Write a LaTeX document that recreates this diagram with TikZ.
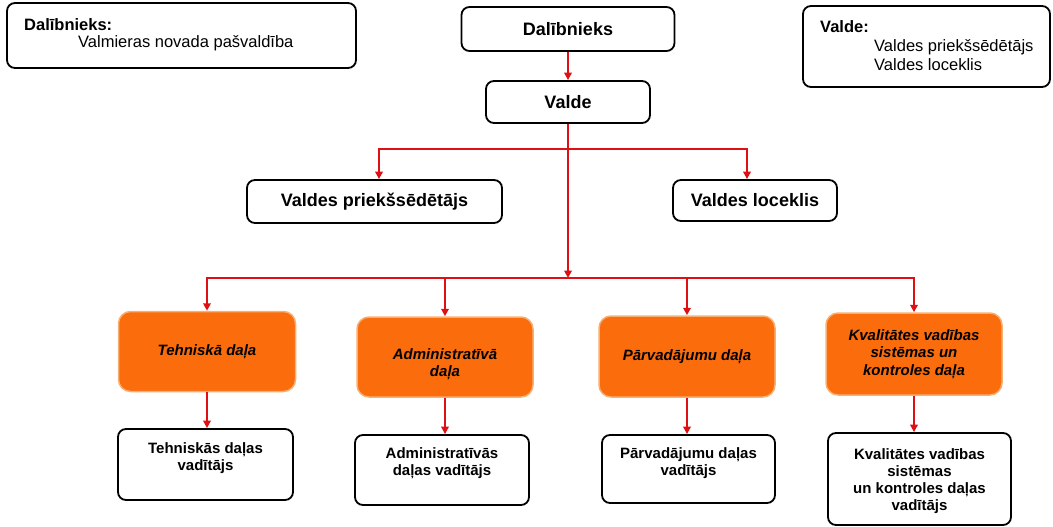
\documentclass[tikz,border=0pt]{standalone}
\usepackage{fontspec}
\setmainfont{Liberation Sans}
\usetikzlibrary{arrows.meta}
\definecolor{linkred}{RGB}{222,16,20}
\definecolor{orfill}{RGB}{250,108,12}
\definecolor{ordraw}{RGB}{246,176,116}
\begin{document}
\begin{tikzpicture}[x=1pt,y=-1pt,
  blackbox/.style={draw=black, line width=1.8pt, rounded corners=8pt, fill=white, inner sep=0pt, align=center},
  midbox/.style={blackbox, font=\bfseries\fontsize{18}{20}\selectfont},
  orangebox/.style={draw=ordraw, line width=1.5pt, fill=orfill, rounded corners=12pt, inner sep=0pt, align=center, font=\bfseries\itshape\fontsize{15}{17.5}\selectfont},
  orangetext/.style={inner sep=0pt, align=center, font=\bfseries\itshape\fontsize{15}{17.5}\selectfont},
  boxtext/.style={inner sep=0pt, align=center, font=\bfseries\fontsize{15}{17}\selectfont},
  notetext/.style={inner sep=0pt, anchor=west, font=\fontsize{16.5}{18}\selectfont},
  notehead/.style={notetext, font=\bfseries\fontsize{16.5}{18}\selectfont},
  link/.style={draw=linkred, line width=2.5pt},
  arr/.style={link, -{Triangle[length=7.5pt,width=7.5pt]}},
]
\useasboundingbox (0,0) rectangle (1053,527);

% note boxes
\node[blackbox, minimum width=349, minimum height=65] (tl) at (181.5,35.5) {};
\node[notehead] (tlhead) at (24,25) {Dalībnieks:};
\node[notetext] (tlbody) at (78,43) {Valmieras novada pašvaldība};

\node[blackbox, minimum width=247, minimum height=81] (tr) at (926.5,46.5) {};
\node[notehead] (trhead) at (820,27) {Valde:};
\node[notetext] (trbody1) at (874,47) {Valdes priekšsēdētājs};
\node[notetext] (trbody2) at (874,65) {Valdes loceklis};

% main chain
\node[midbox, minimum width=213, minimum height=44] (dal) at (568,29) {Dalībnieks};
\node[midbox, minimum width=164, minimum height=42] (valde) at (568,102) {Valde};
\node[midbox, minimum width=255, minimum height=43] (vp) at (374.5,201.5) {Valdes priekšsēdētājs};
\node[midbox, minimum width=164, minimum height=41] (vl) at (755,200.5) {Valdes loceklis};

% departments
\node[orangebox, minimum width=177, minimum height=80] (teh) at (207,351.5) {Tehniskā daļa};
\node[orangebox, minimum width=176, minimum height=80] (adm) at (445,357) {};
\node[orangetext] (admt) at (445,364) {Administratīvā\\daļa};
\node[orangebox, minimum width=176, minimum height=81] (par) at (687,356.5) {Pārvadājumu daļa};
\node[orangebox, minimum width=176, minimum height=82] (kva) at (914,354) {Kvalitātes vadības\\sistēmas un\\kontroles daļa};

% heads
\node[blackbox, minimum width=175, minimum height=71] (tv) at (205.5,464.5) {};
\node[boxtext] (tvt) at (205.5,458.5) {Tehniskās daļas\\vadītājs};
\node[blackbox, minimum width=174, minimum height=70] (av) at (442,470) {};
\node[boxtext] (avt) at (442,463.5) {Administratīvās\\daļas vadītājs};
\node[blackbox, minimum width=173, minimum height=68] (pv) at (688.5,469) {};
\node[boxtext] (pvt) at (688.5,463.5) {Pārvadājumu daļas\\vadītājs};
\node[blackbox, minimum width=183, minimum height=92] (kv) at (919.5,479) {};
\node[boxtext] (kvt) at (919.5,481) {Kvalitātes vadības\\sistēmas\\un kontroles daļas\\vadītājs};

% connectors
\coordinate (busA) at (568,149);
\coordinate (busB) at (568,278);
\draw[arr] (dal.south) -- (valde.north);
\draw[arr] (valde.south) -- (busB);
\draw[arr] (busA) -| ([xshift=4.5pt]vp.north);
\draw[arr] (busA) -| ([xshift=-8pt]vl.north);
\draw[arr] (busB) -| (teh.north);
\draw[arr] (busB) -| (adm.north);
\draw[arr] (busB) -| (par.north);
\draw[arr] (busB) -| (kva.north);
\draw[arr] (teh.south) -- (teh.south |- tv.north);
\draw[arr] (adm.south) -- (adm.south |- av.north);
\draw[arr] (par.south) -- (par.south |- pv.north);
\draw[arr] (kva.south) -- (kva.south |- kv.north);
\end{tikzpicture}
\end{document}
